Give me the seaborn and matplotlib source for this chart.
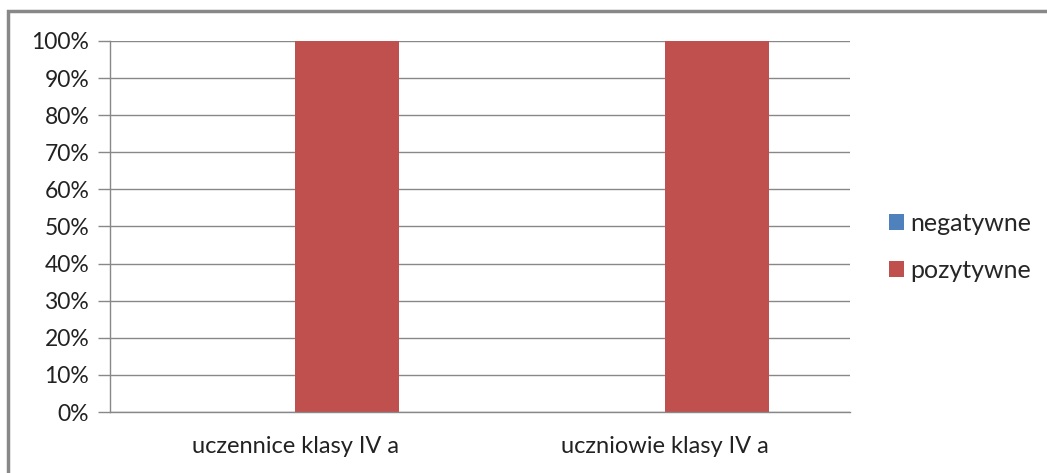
import matplotlib
matplotlib.use("Agg")
import matplotlib.pyplot as plt
import seaborn as sns
import pandas as pd
from matplotlib.patches import Rectangle, Patch
from matplotlib.ticker import FixedLocator

categories = ["uczennice klasy IV a", "uczniowie klasy IV a"]
series_names = ["negatywne", "pozytywne"]
negatywne = [0, 0]
pozytywne = [100, 100]
y_ticks = [0, 10, 20, 30, 40, 50, 60, 70, 80, 90, 100]
colors = ["#4F81BD", "#C0504D"]

sns.set_theme(style="white")
plt.rcParams['font.family'] = ['Lato', 'DejaVu Sans']

df = pd.DataFrame({
    "cat": categories * 2,
    "series": [series_names[0]] * 2 + [series_names[1]] * 2,
    "val": negatywne + pozytywne,
})

fig = plt.figure(figsize=(10.47, 4.73), dpi=100)
ax = fig.add_axes([110/1047, 1 - 412/473, 740/1047, 371/473])

sns.barplot(data=df, x="cat", y="val", hue="series", palette=colors,
            width=0.562, ax=ax, legend=False, saturation=1, linewidth=0)

ax.set_ylim(0, 100)
ax.set_xlim(-0.5, 1.5)
ax.set_yticks(y_ticks)
ax.set_yticklabels([f"{v}%" for v in y_ticks], fontsize=16.5, color="#222222")
ax.set_xticks([0, 1])
ax.set_xticklabels(categories, fontsize=17, color="#222222")
ax.xaxis.set_minor_locator(FixedLocator([-0.5, 0.5, 1.5]))
ax.tick_params(axis="x", which="major", length=0, pad=17)
ax.tick_params(axis="x", which="minor", length=8, color="#888888", width=1, direction="out")
ax.tick_params(axis="y", length=9, color="#888888", width=1, direction="out", pad=6, left=True)
ax.set_xlabel("")
ax.set_ylabel("")
ax.grid(axis="y", color="#888888", linewidth=1)
ax.set_axisbelow(True)
for s in ["top", "right"]:
    ax.spines[s].set_visible(False)
for s in ["left", "bottom"]:
    ax.spines[s].set_color("#888888")
    ax.spines[s].set_linewidth(1)

handles = [Patch(facecolor=c, edgecolor="none") for c in colors]
fig.legend(handles, series_names, loc="center left", bbox_to_anchor=(866/1047, 1 - 247/473),
           frameon=False, fontsize=18, handlelength=0.6, handleheight=0.6,
           handletextpad=0.25, labelspacing=0.95)

fig.patches.append(Rectangle((8/1047, -0.1), 1.2, 1 - 11/473 + 0.1, transform=fig.transFigure,
                             fill=False, edgecolor="#888888", linewidth=2.5))

fig.savefig("out.png", dpi=100)
